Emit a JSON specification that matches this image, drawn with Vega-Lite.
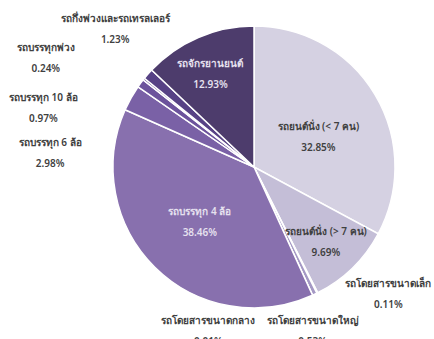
{
  "$schema": "https://vega.github.io/schema/vega-lite/v6.json",
  "width": 360,
  "height": 334,
  "autosize": {"type": "none"},
  "padding": {"left": 74, "top": 0, "right": 0, "bottom": 5},
  "background": "white",
  "config": {"view": {"stroke": null}, "text": {"font": "Noto Sans", "fontSize": 10, "fontWeight": 600, "lineHeight": 21, "color": "#404040"}},
  "data": {
    "values": [
      {"idx": 1, "cat": "รถยนต์นั่ง (< 7 คน)", "share": 0.3285},
      {"idx": 2, "cat": "รถยนต์นั่ง (> 7 คน)", "share": 0.0969},
      {"idx": 3, "cat": "รถโดยสารขนาดเล็ก", "share": 0.0011},
      {"idx": 4, "cat": "รถโดยสารขนาดใหญ่", "share": 0.0053},
      {"idx": 5, "cat": "รถโดยสารขนาดกลาง", "share": 0.0001},
      {"idx": 6, "cat": "รถบรรทุก 4 ล้อ", "share": 0.3846},
      {"idx": 7, "cat": "รถบรรทุก 6 ล้อ", "share": 0.0298},
      {"idx": 8, "cat": "รถบรรทุก 10 ล้อ", "share": 0.0097},
      {"idx": 9, "cat": "รถบรรทุกพ่วง", "share": 0.0024},
      {"idx": 10, "cat": "รถกึ่งพ่วงและรถเทรลเลอร์", "share": 0.0123},
      {"idx": 11, "cat": "รถจักรยานยนต์", "share": 0.1293}
    ]
  },
  "transform": [
    {"calculate": "[datum.cat, format(datum.share, '.2%')]", "as": "label"}
  ],
  "encoding": {
    "theta": {"field": "share", "type": "quantitative", "stack": true},
    "order": {"field": "idx", "type": "quantitative"}
  },
  "layer": [
    {
      "mark": {"type": "arc", "radius": 141, "stroke": "white", "strokeWidth": 1.5},
      "encoding": {
        "color": {
          "field": "cat", "type": "nominal", "legend": null,
          "scale": {
            "domain": ["รถยนต์นั่ง (< 7 คน)", "รถยนต์นั่ง (> 7 คน)", "รถโดยสารขนาดเล็ก", "รถโดยสารขนาดใหญ่", "รถโดยสารขนาดกลาง", "รถบรรทุก 4 ล้อ", "รถบรรทุก 6 ล้อ", "รถบรรทุก 10 ล้อ", "รถบรรทุกพ่วง", "รถกึ่งพ่วงและรถเทรลเลอร์", "รถจักรยานยนต์"],
            "range": ["#d5d1e2", "#c4bed7", "#b3aacd", "#a498c4", "#9787bb", "#8870ae", "#7a61a6", "#6c539c", "#5f4890", "#574285", "#4d3c6c"]
          }
        }
      }
    },
    {
      "mark": {"type": "text", "radius": 75, "dy": -2},
      "encoding": {"text": {"condition": {"test": "datum.idx == 1", "field": "label"}, "value": ""}}
    },
    {
      "mark": {"type": "text", "radius": 103, "dy": -9},
      "encoding": {"text": {"condition": {"test": "datum.idx == 2", "field": "label"}, "value": ""}}
    },
    {
      "mark": {"type": "text", "radius": 77, "dy": -10, "color": "#e6e1ef"},
      "encoding": {"text": {"condition": {"test": "datum.idx == 6", "field": "label"}, "value": ""}}
    },
    {
      "mark": {"type": "text", "radius": 100, "dx": -4, "dy": -11, "color": "#e6e1ef"},
      "encoding": {"text": {"condition": {"test": "datum.idx == 11", "field": "label"}, "value": ""}}
    },
    {
      "mark": {"type": "text", "radius": 150, "dx": 67, "dy": -17},
      "encoding": {"text": {"condition": {"test": "datum.idx == 3", "field": "label"}, "value": ""}}
    },
    {
      "mark": {"type": "text", "radius": 150, "dx": -6, "dy": 19},
      "encoding": {"text": {"condition": {"test": "datum.idx == 4", "field": "label"}, "value": ""}}
    },
    {
      "mark": {"type": "text", "radius": 150, "dx": -108, "dy": 18},
      "encoding": {"text": {"condition": {"test": "datum.idx == 5", "field": "label"}, "value": ""}}
    },
    {
      "mark": {"type": "text", "radius": 150, "dx": -73, "dy": 49},
      "encoding": {"text": {"condition": {"test": "datum.idx == 7", "field": "label"}, "value": ""}}
    },
    {
      "mark": {"type": "text", "radius": 150, "dx": -90, "dy": 20},
      "encoding": {"text": {"condition": {"test": "datum.idx == 8", "field": "label"}, "value": ""}}
    },
    {
      "mark": {"type": "text", "radius": 150, "dx": -91, "dy": -25},
      "encoding": {"text": {"condition": {"test": "datum.idx == 9", "field": "label"}, "value": ""}}
    },
    {
      "mark": {"type": "text", "radius": 150, "dx": -26, "dy": -49},
      "encoding": {"text": {"condition": {"test": "datum.idx == 10", "field": "label"}, "value": ""}}
    }
  ]
}
